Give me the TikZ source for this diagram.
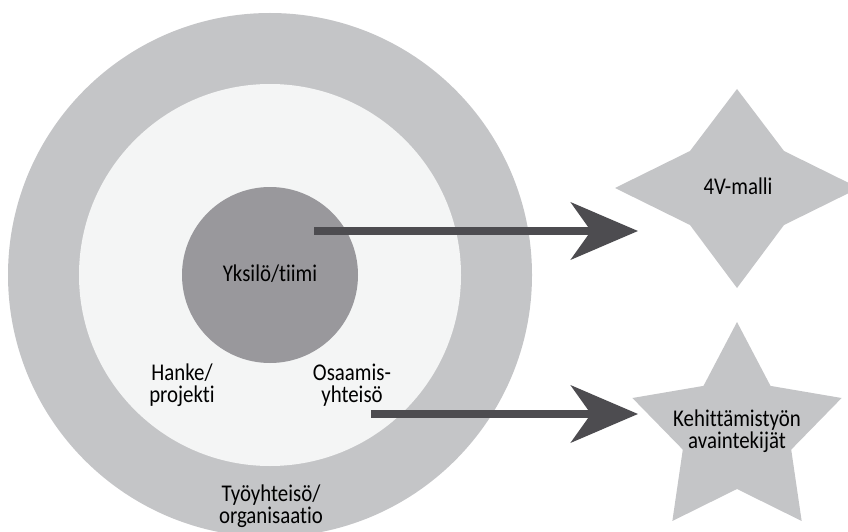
\documentclass[tikz,border=0pt]{standalone}
\usepackage{fontspec}
\setmainfont{Carlito}[FakeStretch=0.87, Ligatures=CommonOff]
\usetikzlibrary{arrows.meta, positioning}

\definecolor{ringgray}{HTML}{C4C5C7}
\definecolor{palegray}{HTML}{F4F5F5}
\definecolor{coregray}{HTML}{99989C}
\definecolor{arrowgray}{HTML}{4D4C50}

\begin{document}
\begin{tikzpicture}[
    x=1pt, y=-1pt,
    % Styles
    ring/.style={circle, inner sep=0pt, draw=none},
    label/.style={font=\fontsize{24}{22}\selectfont, align=center, inner sep=0pt},
    starshape/.style={fill=ringgray, draw=none},
    arrow/.style={-{Stealth[length=67pt, width=57pt, inset=20pt]}, line width=8.5pt, arrowgray}
]
\useasboundingbox (0,0) rectangle (848,532);
\clip (0,0) rectangle (848,532);

% --- Circles ---
\node[ring, fill=ringgray, minimum size=524pt] (organisaatio) at (270,275) {};
\node[ring, fill=palegray, minimum size=382pt] (hanke) at (270,275) {};
\node[ring, fill=coregray, minimum size=176pt] (yksilo) at (270,275) {};

% --- Stars ---
\fill[starshape] (737,188) +(-122,0) -- +(-47,-37) -- +(0,-99) -- +(47,-37)
    -- +(122,0) -- +(47,37) -- +(0,100) -- +(-47,37) -- cycle;
\fill[starshape] (737,432) \foreach \a [count=\i] in {90,162,234,306,18} {
    \ifnum\i=1 +(\a:110 and -110) \else -- +(\a:110 and -110) \fi
    -- +(\a+36:57 and -57)} -- cycle;

% --- Texts ---
\node[label] (yksilo_txt) at (270,274) {Yksilö/tiimi};
\node[label] (hanke_txt) at (182,385) {Hanke/\\projekti};
\node[label] (osaamis_txt) at (352,385) {Osaamis-\\yhteisö};
\node[label] (tyo_txt) at (271,506) {Työyhteisö/\\organisaatio};
\node[label] (malli) at (738,186) {4V-malli};
\node[label] (avain) at (737,431) {Kehittämistyön\\avaintekijät};

% --- Arrows ---
\coordinate (yksilo_out) at (314,231);
\coordinate (malli_in) at (638,231);
\coordinate (osaamis_out) at (371,414);
\coordinate (avain_in) at (638,414);
\draw[arrow] (yksilo_out) -- (malli_in);
\draw[arrow] (osaamis_out) -- (avain_in);

\end{tikzpicture}
\end{document}
